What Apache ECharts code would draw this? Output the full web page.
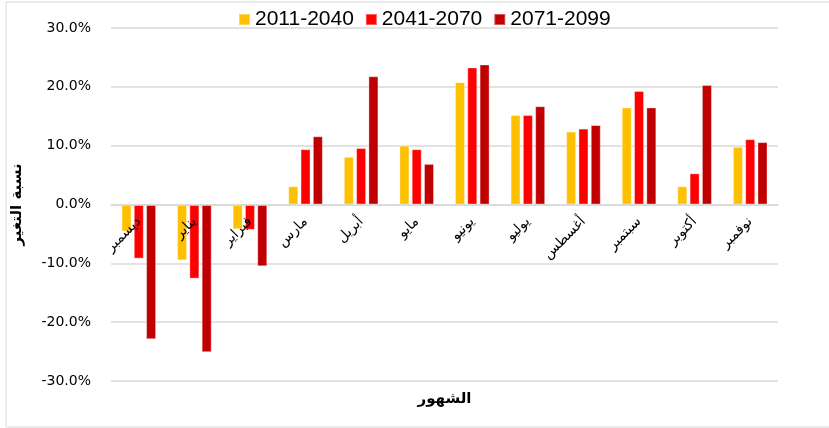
<!DOCTYPE html>
<html>
<head>
<meta charset="utf-8">
<script src="https://cdn.jsdelivr.net/npm/echarts@6/dist/echarts.min.js"></script>
<style>
  html, body { margin: 0; padding: 0; background: #fff; }
  #chart { width: 829px; height: 428px; }
</style>
</head>
<body>
<div id="chart"></div>
<script>
// الأشهر (ترتيب المحور كما في الأصل)
var months = ['ديسمبر', 'يناير', 'فبراير', 'مارس', 'أبريل', 'مايو', 'يونيو', 'يوليو', 'أغسطس', 'سبتمبر', 'أكتوبر', 'نوفمبر'];

// نسبة التغير % لكل فترة
var p2011 = [-4.6, -9.5, -4.2, 3.1, 8.1, 10.0, 20.8, 15.2, 12.4, 16.5, 3.1, 9.8];
var p2041 = [-9.2, -12.6, -4.3, 9.4, 9.6, 9.4, 23.3, 15.2, 12.9, 19.3, 5.3, 11.1];
var p2071 = [-22.9, -25.1, -10.5, 11.6, 21.8, 6.9, 23.8, 16.7, 13.5, 16.5, 20.3, 10.6];

var seriesNames = ['2011-2040', '2041-2070', '2071-2099'];
var yTicks = [-30, -20, -10, 0, 10, 20, 30];

var colors = ['#FFC000', '#FF0000', '#C00000'];

var myChart = echarts.init(document.getElementById('chart'));

function bar(name, data, color) {
    return {
        name: name,
        type: 'bar',
        data: data,
        barWidth: 10,
        barGap: '23%',
        itemStyle: {
            color: color,
            borderColor: 'rgba(255,255,255,0.35)',
            borderWidth: 1
        }
    };
}

// grid: top 28, bottom 47 -> plot height 353, zero sits half way
var plotTop = 28, plotBottom = 47, plotH = 428 - plotTop - plotBottom;

var option = {
    animation: false,
    color: colors,
    graphic: [{
        type: 'rect',
        shape: { x: 6, y: 2, width: 840, height: 425 },
        style: { fill: 'none', stroke: '#d9d9d9', lineWidth: 1 },
        silent: true
    }],
    legend: {
        data: seriesNames,
        left: 233,
        top: 4,
        icon: 'rect',
        itemWidth: 11,
        itemHeight: 11,
        itemGap: 11,
        textStyle: {
            fontFamily: 'Liberation Sans, Arial, sans-serif',
            fontSize: 21,
            color: '#000'
        }
    },
    grid: {
        left: 111,
        right: 51,
        top: plotTop,
        bottom: plotBottom,
        outerBoundsMode: 'none',
        containLabel: false
    },
    xAxis: {
        type: 'category',
        data: months,
        // category axis drawn on the 0% line, like the Excel original
        offset: -plotH / 2,
        z: 5,
        name: 'الشهور',
        nameLocation: 'middle',
        nameGap: 187,
        nameTextStyle: {
            fontFamily: 'DejaVu Sans, sans-serif',
            fontWeight: 'bold',
            fontSize: 15,
            color: '#000'
        },
        axisLine: { onZero: false, lineStyle: { color: '#d9d9d9', width: 1.5 } },
        axisTick: { show: false },
        axisLabel: {
            interval: 0,
            rotate: 45,
            margin: 15,
            fontFamily: 'DejaVu Sans, sans-serif',
            fontSize: 14,
            color: '#000'
        }
    },
    yAxis: {
        type: 'value',
        min: yTicks[0],
        max: yTicks[yTicks.length - 1],
        interval: 10,
        name: 'نسبة التغير',
        nameLocation: 'middle',
        nameRotate: 90,
        nameGap: 86,
        nameTextStyle: {
            fontFamily: 'DejaVu Sans, sans-serif',
            fontWeight: 'bold',
            fontSize: 15,
            color: '#000'
        },
        axisLine: { show: false },
        axisTick: { show: false },
        axisLabel: {
            margin: 20,
            fontFamily: 'DejaVu Sans, sans-serif',
            fontSize: 14,
            color: '#000',
            formatter: function (v) { return v.toFixed(1) + '%'; }
        },
        splitLine: { lineStyle: { color: '#d9d9d9', width: 1.5 } }
    },
    series: [
        bar(seriesNames[0], p2011, colors[0]),
        bar(seriesNames[1], p2041, colors[1]),
        bar(seriesNames[2], p2071, colors[2])
    ]
};

myChart.setOption(option);
</script>
</body>
</html>
